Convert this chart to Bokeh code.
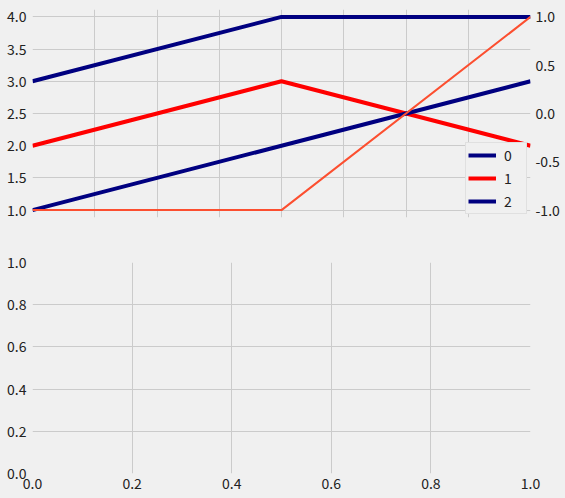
from bokeh.plotting import figure
from bokeh.layouts import column
from bokeh.models import (Range1d, LinearAxis, SingleIntervalTicker,
                          PrintfTickFormatter)
from bokeh.embed import file_html
from bokeh.resources import INLINE

# ---- data ----
x = [0.0, 0.5, 1.0]
series0 = [3, 4, 4]
series1 = [2, 3, 2]
series2 = [1, 2, 3]
twin_series = [-1, -1, 1]
legend_labels = ["0", "1", "2"]

BG = "#f0f0f0"
GRID = "#cbcbcb"
FONT = "Noto Sans CJK JP"
TXT = "#222222"

# left axis limits with a small matplotlib-like margin; right axis aligned
y_lo, y_hi = 0.885, 4.115
r_lo, r_hi = (y_lo - 2.5) * 2 / 3, (y_hi - 2.5) * 2 / 3


def style_axis(ax, fmt="%.1f", standoff=5):
    ax.axis_line_color = None
    ax.major_tick_line_color = None
    ax.minor_tick_line_color = None
    ax.major_tick_out = 0
    ax.major_tick_in = 0
    ax.minor_tick_out = 0
    ax.major_label_text_font = FONT
    ax.major_label_text_font_size = "14px"
    ax.major_label_text_color = TXT
    ax.major_label_standoff = standoff
    ax.formatter = PrintfTickFormatter(format=fmt)


def base_fig(w, h, **kw):
    f = figure(width=w, height=h, output_backend="svg", toolbar_location=None,
               background_fill_color=BG, border_fill_color=BG,
               outline_line_color=None, **kw)
    f.grid.grid_line_color = GRID
    f.grid.grid_line_width = 1
    return f


# ---- top plot ----
top = base_fig(565, 235, x_range=Range1d(0, 1), y_range=Range1d(y_lo, y_hi),
               min_border_left=32, min_border_right=35,
               min_border_top=9, min_border_bottom=18)
top.extra_y_ranges = {"right": Range1d(r_lo, r_hi)}

xt = SingleIntervalTicker(interval=0.125)
top.xaxis.ticker = xt
top.xgrid.ticker = xt
top.xaxis.visible = False
yt = SingleIntervalTicker(interval=0.5)
top.yaxis.ticker = yt
top.ygrid.ticker = yt
style_axis(top.yaxis[0], standoff=6)

raxis = LinearAxis(y_range_name="right", ticker=SingleIntervalTicker(interval=0.5))
style_axis(raxis, standoff=5)
top.add_layout(raxis, "right")

colors = ["#000080", "#ff0000", "#000080"]
for ys, c, lab in zip([series0, series1, series2], colors, legend_labels):
    top.line(x, ys, line_color=c, line_width=4, legend_label=lab)

top.line(x, twin_series, line_color="#fc4f30", line_width=2, y_range_name="right")

lg = top.legend[0]
lg.location = "bottom_right"
lg.margin = 3
lg.padding = 2
lg.spacing = 3
lg.glyph_width = 28
lg.glyph_height = 16
lg.label_standoff = 8
lg.label_height = 16
lg.label_text_font = FONT
lg.label_text_font_size = "14px"
lg.label_text_color = TXT
lg.background_fill_color = BG
lg.background_fill_alpha = 1
lg.border_line_color = "#d0d0d0"
lg.border_line_width = 1

# ---- bottom plot ----
bot = base_fig(565, 263, x_range=Range1d(0, 1), y_range=Range1d(0, 1),
               min_border_left=32, min_border_right=35,
               min_border_top=27, min_border_bottom=25)
bt = SingleIntervalTicker(interval=0.2)
bot.xaxis.ticker = bt
bot.yaxis.ticker = bt
style_axis(bot.xaxis[0], standoff=4)
style_axis(bot.yaxis[0], standoff=6)

layout = column(top, bot, spacing=0, styles={"background-color": BG})

open("out.html", "w").write(file_html(layout, INLINE))
